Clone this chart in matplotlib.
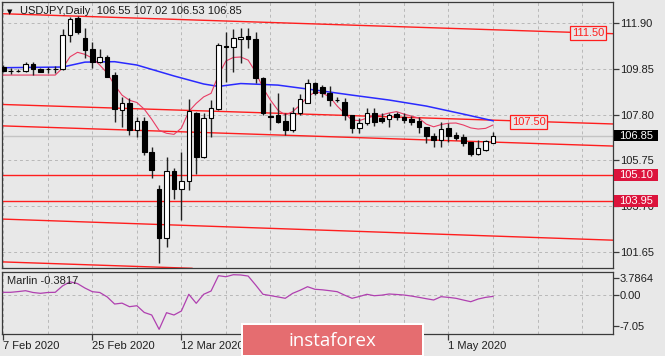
import matplotlib
matplotlib.use('Agg')
import matplotlib.pyplot as plt
from matplotlib.patches import Rectangle
from matplotlib.transforms import blended_transform_factory

# ---------------- data ----------------
symbol = "USDJPY,Daily"
opens = [109.95, 109.78, 109.76, 109.77, 110.07, 109.84, 109.84, 109.86, 109.84, 111.36,
         112.12, 111.24, 110.73, 110.16, 110.40, 109.57, 108.01, 108.31, 107.12, 107.53,
         106.14, 104.47, 102.26, 105.29, 104.46, 104.84, 107.86, 105.92, 107.64, 108.04,
         110.90, 110.85, 111.18, 111.33, 111.18, 109.43, 107.76, 107.79, 107.53, 107.12,
         107.86, 108.34, 109.21, 109.03, 108.79, 108.47, 108.38, 107.79, 107.19, 107.44,
         107.89, 107.64, 107.60, 107.83, 107.71, 107.60, 107.53, 107.24, 106.85, 106.67,
         107.19, 106.89, 106.79, 106.59, 106.04, 106.22, 106.55]
highs = [110.02, 109.88, 109.86, 110.16, 110.16, 109.88, 109.95, 109.99, 111.63, 112.20,
         112.22, 111.69, 111.07, 110.73, 110.48, 109.73, 108.58, 108.54, 107.71, 107.71,
         106.37, 104.65, 105.92, 105.40, 106.14, 108.49, 107.94, 107.86, 108.46, 111.00,
         111.52, 111.63, 111.67, 111.68, 111.52, 109.51, 108.31, 108.76, 107.86, 108.13,
         108.72, 109.42, 109.28, 109.13, 109.09, 108.61, 108.54, 107.79, 107.64, 108.09,
         108.09, 107.86, 107.90, 107.94, 107.86, 107.74, 107.68, 107.26, 106.97, 107.49,
         107.42, 107.04, 106.94, 106.59, 106.67, 106.67, 107.02]
lows = [109.72, 109.63, 109.70, 109.72, 109.58, 109.70, 109.69, 109.66, 109.80, 111.07,
        111.40, 110.33, 109.88, 110.11, 109.48, 107.49, 107.26, 106.89, 106.82, 106.00,
        104.95, 101.14, 101.88, 104.00, 103.08, 104.43, 105.14, 105.85, 106.82, 108.01,
        109.28, 109.73, 110.10, 110.78, 109.21, 107.79, 107.12, 107.42, 106.89, 107.04,
        107.79, 108.31, 108.70, 108.61, 108.19, 108.39, 107.56, 106.97, 106.97, 107.34,
        107.30, 107.41, 107.26, 107.56, 107.41, 107.34, 107.00, 106.55, 106.37, 106.37,
        106.59, 106.67, 106.40, 105.95, 105.99, 106.18, 106.53]
closes = [109.78, 109.76, 109.78, 110.07, 109.85, 109.73, 109.86, 109.84, 111.38, 112.08,
          111.50, 110.70, 110.18, 110.38, 109.51, 108.04, 108.31, 107.12, 107.53, 106.14,
          105.32, 102.26, 105.29, 104.46, 104.84, 107.97, 105.92, 107.64, 108.09, 110.93,
          110.86, 111.23, 111.30, 111.18, 109.43, 107.86, 107.72, 107.49, 107.12, 107.86,
          108.49, 109.21, 108.76, 108.76, 108.46, 108.45, 107.79, 107.19, 107.44, 107.89,
          107.49, 107.53, 107.79, 107.71, 107.56, 107.49, 107.24, 106.85, 106.67, 107.15,
          106.85, 106.74, 106.55, 106.04, 106.29, 106.64, 106.85]

# slow MA (blue)
blue_idx = [0, 8, 11, 15, 18, 23, 27, 29, 32, 37, 42, 47, 52, 57, 62, 66]
blue_val = [109.91, 109.94, 110.16, 110.18, 110.03, 109.54, 109.18, 109.07, 109.20,
            109.13, 108.91, 108.68, 108.46, 108.19, 107.83, 107.53]

# fast MA (thin red)
red_idx = [0, 7, 8, 9, 10, 11, 12, 13, 14, 15, 16, 17, 18, 19, 20, 21, 22, 23, 24, 25,
           26, 27, 28, 29, 30, 31, 32, 33, 34, 35, 36, 37, 38, 39, 40, 41, 42, 43, 44, 45,
           46, 47, 48, 49, 50, 51, 52, 53, 54, 55, 56, 57, 58, 59, 60, 61, 62, 63, 64, 65, 66]
red_val = [109.58, 109.58, 109.90, 110.40, 110.60, 110.51, 110.34, 110.03, 109.67, 109.13,
           108.68, 108.45, 108.35, 108.05, 107.60, 107.10, 106.97, 106.92, 107.20, 107.95,
           108.31, 108.60, 108.76, 109.58, 110.21, 110.37, 110.39, 110.25, 109.72, 109.00,
           108.46, 108.01, 107.79, 107.94, 108.24, 108.60, 108.82, 108.77, 108.60, 108.19,
           107.86, 107.56, 107.54, 107.65, 107.74, 107.79, 107.88, 107.94, 107.83, 107.74,
           107.65, 107.38, 107.26, 107.36, 107.42, 107.43, 107.34, 107.21, 107.16, 107.19, 107.34]

# Marlin oscillator, one value per bar
marlin = [0.54, 0.54, 0.70, 0.90, 0.50, 0.31, 0.50, 0.54, 2.00, 2.90,
          2.50, 1.50, 0.68, 0.50, -0.50, -2.10, -1.90, -2.70, -2.48, -4.00,
          -4.57, -7.80, -4.05, -4.57, -3.67, 0.09, -1.94, 0.09, 0.83, 4.28,
          4.05, 4.50, 4.44, 4.20, 2.20, 0.09, -0.20, -0.50, -0.81, 0.31,
          1.00, 1.80, 1.22, 1.10, 0.90, 0.68, -0.10, -0.81, -0.40, 0.09,
          -0.23, -0.10, 0.16, 0.05, -0.07, -0.30, -0.59, -0.90, -1.19, -0.45,
          -0.60, -0.81, -1.20, -1.58, -0.97, -0.60, -0.3817]

# channel trend lines: two anchor points each (bar index, price)
chan_lines = [((0, 112.33), (80, 111.46)),
              ((0, 108.26), (80, 107.41)),
              ((0, 107.30), (80, 106.42)),
              ((0, 103.12), (80, 102.20)),
              ((0, 101.20), (80, 100.30))]
hlines = [105.10, 103.95]
line_labels = [(78.84, 111.47, "111.50"), (70.83, 107.47, "107.50")]

price_ticks = [111.90, 109.85, 107.80, 105.75, 103.70, 101.65]
osc_ticks = [3.7864, 0.00, -7.05]
osc_tick_labels = ["3.7864", "0.00", "-7.05"]
# ticks at 36 and 48 lie under the watermark, their labels are not visible
date_idx = [0, 12, 24, 36, 48, 60]
date_labels = ["7 Feb 2020", "25 Feb 2020", "12 Mar 2020", "", "", "1 May 2020"]
grid_idx = list(range(0, 84, 6))

# ---------------- figure ----------------
W, H = 665, 356
BG = '#e8e8e8'
FONT = 'Liberation Sans'
plt.rcParams['font.family'] = [FONT, 'DejaVu Sans']
fig = plt.figure(figsize=(W / 100, H / 100), dpi=100)
fig.patch.set_facecolor(BG)


def fx(px):
    return px / W


def fy(py):
    return 1 - py / H


L, R = 1.7, 612.7
ax = fig.add_axes([fx(L), fy(268.3), (R - L) / W, (268.3 - 1.7) / H])
axi = fig.add_axes([fx(L), fy(334), (R - L) / W, (334 - 271.7) / H])

for a in (ax, axi):
    a.set_facecolor(BG)
    for s in a.spines.values():
        s.set_color('#3a3a3a')
        s.set_linewidth(0.9)
    a.set_xlim(-0.216, 82.13)
    for gx in grid_idx:
        a.axvline(gx, color='#b8b8b8', lw=0.7, ls=(0, (3, 3)), zorder=0)

ax.set_ylim(100.914, 112.87)
axi.set_ylim(-8.85, 5.18)

# horizontal grid
for p in price_ticks:
    ax.axhline(p, color='#b8b8b8', lw=0.7, ls=(0, (3, 3)), zorder=0)
axi.axhline(0, color='#b8b8b8', lw=0.7, ls=(0, (3, 3)), zorder=0)

# bid line
ax.axhline(closes[-1], color='#c4c4c4', lw=1.0, zorder=1)

# channel lines & horizontal levels
for p1, p2 in chan_lines:
    ax.axline(p1, p2, color='#ff1e1e', lw=1.0, zorder=2)
for h in hlines:
    ax.axhline(h, color='#ff1e1e', lw=1.0, zorder=2)

# moving averages
ax.plot(blue_idx, blue_val, color='#2a2aff', lw=1.1, zorder=3)
ax.plot(red_idx, red_val, color='#e83c64', lw=0.8, zorder=3)

# candles
idx = list(range(len(opens)))
ax.vlines(idx, lows, highs, color='#202020', lw=1.0, zorder=4)
bottoms = [min(o, c) for o, c in zip(opens, closes)]
heights = [max(abs(c - o), 0.015) for o, c in zip(opens, closes)]
colors = ['white' if c > o else 'black' for o, c in zip(opens, closes)]
ax.bar(idx, heights, bottom=bottoms, width=0.62, color=colors, edgecolor='black',
       linewidth=0.8, zorder=5)

# labels on trend lines
for xi, yp, t in line_labels:
    ax.text(xi, yp, t, color='#ff1e1e', fontsize=8, ha='center', va='center', zorder=6,
            bbox=dict(boxstyle='square,pad=0.15', facecolor=BG, edgecolor='#ff1e1e', lw=0.9))

# right price axis
ax.yaxis.tick_right()
ax.set_yticks(price_ticks)
ax.set_yticklabels([f"{p:.2f}" for p in price_ticks])
ax.tick_params(axis='y', direction='out', length=4, width=0.9, color='#3a3a3a',
               labelsize=8, labelcolor='#202020', pad=1)
ax.set_xticks([])

# right side price boxes
blend = blended_transform_factory(ax.transAxes, ax.transData)
px_price = (112.87 - 100.914) / 266.6  # price per pixel
x0 = (614.0 - L) / (R - L)
wbox = 44.0 / (R - L)
for price, fc, hpx in [(closes[-1], 'black', 11), (hlines[0], '#dc143c', 12), (hlines[1], '#dc143c', 12)]:
    ax.add_patch(Rectangle((x0, price - hpx / 2 * px_price), wbox, hpx * px_price,
                           transform=blend, facecolor=fc, edgecolor='none',
                           clip_on=False, zorder=10))
    ax.text(x0 + wbox / 2, price, f"{price:.2f}", transform=blend, color='white',
            fontsize=8, ha='center', va='center', zorder=11, clip_on=False)

# oscillator panel
axi.plot(idx, marlin, color='#b040b0', lw=0.9, zorder=3)
axi.yaxis.tick_right()
axi.set_yticks(osc_ticks)
axi.set_yticklabels(osc_tick_labels)
axi.tick_params(axis='y', direction='out', length=4, width=0.9, color='#3a3a3a',
                labelsize=8, labelcolor='#202020', pad=1)
axi.set_xticks(date_idx)
axi.set_xticklabels(date_labels, ha='left')
axi.tick_params(axis='x', direction='out', length=4, width=0.9, color='#3a3a3a',
                labelsize=8, labelcolor='#202020', pad=1)
axi.text((6.7 - L) / (R - L), 0.85, f"Marlin {marlin[-1]:.4f}", transform=axi.transAxes,
         fontsize=8, color='#202020', ha='left', va='center')

# title
fig.text(fx(6.5), fy(12.0), "\u25BC", fontsize=5, color='black', ha='left', va='center',
         family='DejaVu Sans')
fig.text(fx(20), fy(10.8),
         f"{symbol}  {opens[-1]:.2f} {highs[-1]:.2f} {lows[-1]:.2f} {closes[-1]:.2f}",
         fontsize=8, color='#1a1a1a', ha='left', va='center')

# watermark
fig.add_artist(Rectangle((fx(241), fy(357)), fx(424 - 241), 34 / H, transform=fig.transFigure,
                         facecolor='white', edgecolor='none', zorder=20))
fig.add_artist(Rectangle((fx(243.3), fy(354.5)), fx(421.7 - 243.3), 29.5 / H,
                         transform=fig.transFigure, facecolor='#e56d70', edgecolor='none',
                         zorder=21))
fig.text(fx(332.5), fy(346), "instaforex", fontsize=13.5, color='white', ha='center',
         va='baseline', family=['Open Sans', 'DejaVu Sans'], zorder=22)

fig.savefig('out.png', dpi=100, facecolor=BG)
